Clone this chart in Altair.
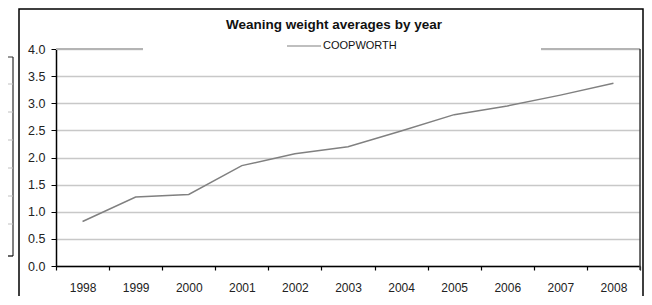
import altair as alt
import pandas as pd

years = ["1998", "1999", "2000", "2001", "2002", "2003", "2004", "2005", "2006", "2007", "2008"]
weights = [0.82, 1.27, 1.32, 1.85, 2.07, 2.20, 2.49, 2.79, 2.95, 3.15, 3.37]
y_ticks = [0.0, 0.5, 1.0, 1.5, 2.0, 2.5, 3.0, 3.5, 4.0]
series_name = "COOPWORTH"
title_text = "Weaning weight averages by year"

df = pd.DataFrame({"year": years, "weight": weights})
one = pd.DataFrame({"k": [0]})

FONT = "Liberation Sans"
LINE_COLOR = "#808080"
W, H = 584, 217

xscale = alt.Scale(type="band", paddingInner=0, paddingOuter=0)
xaxis = alt.Axis(labelAngle=0, ticks=True, tickBand="extent", tickSize=4,
                 tickColor="#000000", tickWidth=1.2, labelPadding=12,
                 labelFont=FONT, labelFontSize=12, labelColor="#222222",
                 domainColor="#000000", domainWidth=1.5, grid=False)

base = alt.Chart(df)
deco = alt.Chart(one)

line = base.mark_line(color=LINE_COLOR, strokeWidth=1.5).encode(
    x=alt.X("year:O", scale=xscale, bandPosition=0.5, title=None, axis=xaxis),
    y=alt.Y("weight:Q", scale=alt.Scale(domain=[0, 4], nice=False), title=None,
            axis=alt.Axis(values=y_ticks, format=".1f", tickSize=5, tickColor="#000000",
                          labelPadding=6, labelFont=FONT, labelFontSize=12.5,
                          labelColor="#222222", domainColor="#000000", domainWidth=1.5,
                          grid=True, gridColor="#c8c8c8", gridWidth=1.3)),
)

# legend box covering the top gridline
cover = deco.mark_rect(color="white").encode(
    x=alt.value(87), x2=alt.value(485), y=alt.value(-4), y2=alt.value(3)
)
top_left = deco.mark_rule(color="#b4b4b4", strokeWidth=2).encode(
    x=alt.value(0), x2=alt.value(87), y=alt.value(0)
)
top_right = deco.mark_rule(color="#b4b4b4", strokeWidth=2).encode(
    x=alt.value(485), x2=alt.value(W), y=alt.value(0)
)
right_border = deco.mark_rule(color="#404040", strokeWidth=1.5).encode(
    x=alt.value(W), y=alt.value(0), y2=alt.value(H + 4)
)

legend_line = deco.mark_rule(color=LINE_COLOR, strokeWidth=1.2).encode(
    x=alt.value(231), x2=alt.value(265), y=alt.value(-3)
)
legend_text = deco.mark_text(align="left", baseline="middle", font=FONT, fontSize=11,
                             color="#111111").encode(
    x=alt.value(267), y=alt.value(-3), text=alt.value(series_name)
)
title = deco.mark_text(align="center", baseline="middle", font=FONT, fontSize=13.5,
                       fontWeight="bold", color="#111111").encode(
    x=alt.value(278), y=alt.value(-24), text=alt.value(title_text)
)

outer = deco.mark_rect(fill=None, stroke="#000000", strokeWidth=1.5).encode(
    x=alt.value(-37), x2=alt.value(587), y=alt.value(-40), y2=alt.value(300)
)

# fragment of the neighbouring table on the left
frag_v = deco.mark_rule(color="#000000", strokeWidth=1).encode(
    x=alt.value(-43), y=alt.value(8), y2=alt.value(207)
)
frag_top = deco.mark_rule(color="#333333", strokeWidth=1).encode(
    x=alt.value(-50), x2=alt.value(-43), y=alt.value(8)
)
frag_bot = deco.mark_rule(color="#000000", strokeWidth=1.2).encode(
    x=alt.value(-50), x2=alt.value(-43), y=alt.value(207)
)
frag_lines = [
    deco.mark_rule(color="#c0c0c0", strokeWidth=1).encode(
        x=alt.value(-50), x2=alt.value(-43), y=alt.value(v)
    )
    for v in (35, 63, 91, 119, 147, 175)
]

chart = alt.layer(
    line, cover, top_left, top_right, right_border,
    legend_line, legend_text, title, outer, frag_v, frag_top, frag_bot, *frag_lines
).properties(
    width=W, height=H,
    autosize=alt.AutoSizeParams(type="none"),
    padding={"left": 48, "top": 41, "right": 4, "bottom": 30},
).configure_view(stroke=None).configure(background="white")

chart.save("out.html", embed_options={"renderer": "svg", "actions": False})
